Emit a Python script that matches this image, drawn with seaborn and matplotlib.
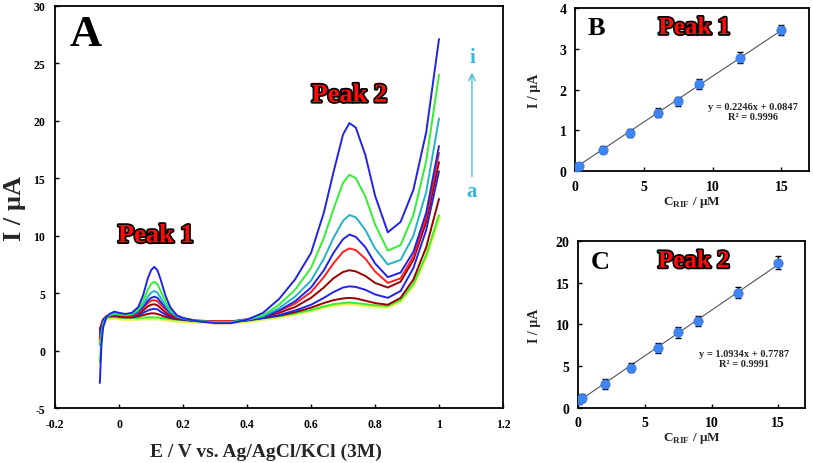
import numpy as np
import pandas as pd
import matplotlib
matplotlib.use("Agg")
import matplotlib.pyplot as plt
import matplotlib.patheffects as pe
from matplotlib.ticker import FuncFormatter
import seaborn as sns

# ---------------- data ----------------
potential = [-0.060, -0.055, -0.050, -0.040, -0.030, -0.015, 0.000, 0.020, 0.040, 0.060,
             0.075, 0.090, 0.100, 0.110, 0.120, 0.130, 0.145, 0.160, 0.180, 0.200,
             0.240, 0.300, 0.350, 0.400, 0.450, 0.500, 0.550, 0.600, 0.640, 0.670,
             0.700, 0.720, 0.740, 0.770, 0.800, 0.840, 0.880, 0.920, 0.960, 1.000]

curve_blank = [0.8, 1.8, 2.4, 2.75, 2.8, 2.85, 2.8, 2.75, 2.75, 2.75,
               2.8, 2.8, 2.8, 2.8, 2.8, 2.75, 2.7, 2.65, 2.6, 2.55,
               2.5, 2.45, 2.45, 2.55, 2.75, 2.95, 3.2, 3.5, 3.8, 3.95,
               4.05, 4.1, 4.05, 3.95, 3.85, 3.8, 4.3, 5.7, 8.2, 11.6]
curve_a = [1.0, 1.9, 2.5, 2.85, 2.9, 2.95, 2.9, 2.85, 2.85, 2.85,
           2.9, 2.9, 2.9, 2.9, 2.9, 2.85, 2.8, 2.75, 2.7, 2.65,
           2.55, 2.5, 2.5, 2.6, 2.8, 3.0, 3.25, 3.55, 3.85, 4.05,
           4.15, 4.2, 4.15, 4.05, 3.95, 3.9, 4.4, 5.8, 8.3, 11.8]
curve_b = [1.9, 2.3, 2.7, 2.95, 3.0, 3.0, 2.95, 2.9, 2.9, 3.0,
           3.1, 3.2, 3.25, 3.25, 3.2, 3.1, 2.95, 2.85, 2.75, 2.7,
           2.6, 2.55, 2.55, 2.65, 2.85, 3.05, 3.35, 3.75, 4.15, 4.4,
           4.55, 4.6, 4.55, 4.35, 4.15, 4.0, 4.6, 6.2, 9.0, 13.2]
curve_c = [1.2, 2.0, 2.6, 2.95, 3.05, 3.1, 3.0, 2.95, 2.95, 3.1,
           3.3, 3.5, 3.6, 3.65, 3.6, 3.4, 3.15, 2.95, 2.8, 2.7,
           2.6, 2.5, 2.5, 2.65, 2.85, 3.1, 3.5, 4.0, 4.6, 5.1,
           5.5, 5.6, 5.55, 5.3, 4.9, 4.6, 5.2, 7.2, 10.5, 15.6]
curve_d = [1.8, 2.2, 2.7, 3.0, 3.05, 3.1, 3.05, 3.0, 3.0, 3.2,
           3.5, 3.85, 4.0, 4.05, 3.95, 3.7, 3.35, 3.05, 2.85, 2.75,
           2.6, 2.55, 2.55, 2.7, 2.95, 3.3, 3.8, 4.6, 5.5, 6.3,
           6.85, 7.0, 6.9, 6.5, 5.9, 5.5, 6.0, 7.9, 11.2, 16.4]
curve_e = [1.0, 1.8, 2.5, 2.95, 3.1, 3.15, 3.1, 3.05, 3.05, 3.3,
           3.7, 4.15, 4.35, 4.4, 4.3, 4.0, 3.6, 3.2, 2.9, 2.8,
           2.65, 2.55, 2.55, 2.75, 3.0, 3.45, 4.1, 5.1, 6.4, 7.6,
           8.6, 8.9, 8.75, 8.0, 6.9, 5.9, 6.3, 8.2, 11.6, 17.2]
curve_f = [1.5, 2.0, 2.6, 3.0, 3.1, 3.2, 3.15, 3.1, 3.1, 3.4,
           3.8, 4.35, 4.6, 4.7, 4.6, 4.25, 3.75, 3.3, 2.95, 2.8,
           2.6, 2.5, 2.5, 2.7, 2.95, 3.5, 4.3, 5.5, 7.0, 8.5,
           9.7, 10.1, 9.9, 9.0, 7.6, 6.4, 6.8, 8.6, 12.0, 17.8]
curve_g = [0.5, 1.5, 2.4, 2.9, 3.1, 3.2, 3.15, 3.1, 3.15, 3.5,
           4.0, 4.7, 5.05, 5.2, 5.05, 4.6, 3.95, 3.4, 3.0, 2.8,
           2.6, 2.5, 2.5, 2.7, 3.0, 3.7, 4.7, 6.1, 8.0, 9.8,
           11.3, 11.8, 11.6, 10.5, 8.9, 7.5, 7.9, 10.0, 13.8, 20.2]
curve_h = [-1.0, 1.0, 2.2, 2.9, 3.1, 3.25, 3.2, 3.1, 3.2, 3.6,
           4.3, 5.3, 5.8, 6.0, 5.8, 5.2, 4.3, 3.6, 3.05, 2.85,
           2.6, 2.45, 2.45, 2.7, 3.1, 4.0, 5.3, 7.2, 9.8, 12.3,
           14.6, 15.3, 15.0, 13.4, 11.0, 8.7, 9.2, 11.8, 16.5, 24.0]
curve_i = [-2.8, 0.5, 2.0, 2.9, 3.2, 3.4, 3.3, 3.2, 3.3, 3.8,
           4.8, 6.3, 7.0, 7.3, 7.0, 6.2, 4.8, 3.8, 3.1, 2.85,
           2.6, 2.4, 2.4, 2.7, 3.3, 4.5, 6.2, 8.5, 12.0, 15.5,
           18.8, 19.8, 19.4, 17.0, 13.5, 10.3, 11.2, 14.0, 19.0, 27.1]

curve_names = ["blank", "a", "b", "c", "d", "e", "f", "g", "h", "i"]
curve_colors = ["#f2f060", "#33f033", "#9a0000", "#2323e6", "#9a0000",
                "#ff1f1f", "#2323e6", "#22b4c6", "#33f033", "#2323e6"]

conc = [0.1, 0.3, 2, 4, 6, 7.5, 9, 12, 15]
peak1_current = [0.10, 0.14, 0.53, 0.94, 1.43, 1.71, 2.14, 2.78, 3.46]
peak1_err = [0.06, 0.06, 0.09, 0.09, 0.11, 0.12, 0.13, 0.13, 0.13]
peak2_current = [1.0, 1.2, 2.87, 4.83, 7.19, 9.06, 10.46, 13.8, 17.4]
peak2_err = [0.5, 0.5, 0.6, 0.55, 0.6, 0.7, 0.6, 0.65, 0.8]
fit1_slope, fit1_intercept = 0.2246, 0.0847
fit2_slope, fit2_intercept = 1.0934, 0.7787
fit_range = [0.0, 15.0]

# ---------------- style ----------------
sns.set_theme(style="ticks")
plt.rcParams["font.family"] = ["Liberation Serif", "DejaVu Serif"]
plt.rcParams["font.weight"] = "bold"
plt.rcParams["axes.unicode_minus"] = False
plt.rcParams["mathtext.fontset"] = "custom"
plt.rcParams["mathtext.rm"] = "Liberation Serif"
plt.rcParams["mathtext.bf"] = "Liberation Serif:bold"

fig = plt.figure(figsize=(8.13, 4.64), dpi=100)
axA = fig.add_axes([0.0677, 0.1179, 0.551, 0.8677])
axB = fig.add_axes([0.7073, 0.6287, 0.2878, 0.3519])
axC = fig.add_axes([0.7110, 0.1185, 0.2792, 0.3600])

# ---------------- panel A ----------------
curves = [curve_blank, curve_a, curve_b, curve_c, curve_d, curve_e,
          curve_f, curve_g, curve_h, curve_i]
rows = []
for name, vals in zip(curve_names, curves):
    for e, v in zip(potential, vals):
        rows.append((name, e, v))
dfA = pd.DataFrame(rows, columns=["curve", "E", "I"])
for name, col in zip(curve_names, curve_colors):
    sub = dfA[dfA["curve"] == name]
    sns.lineplot(data=sub, x="E", y="I", color=col, sort=False, estimator=None,
                 lw=2.6 if name == "blank" else 1.4, ax=axA)

axA.set_xlim(-0.2, 1.2)
axA.set_ylim(-5, 30)
axA.set_xticks(np.arange(-0.2, 1.21, 0.2))
axA.set_yticks(np.arange(-5, 31, 5))
axA.xaxis.set_major_formatter(FuncFormatter(lambda v, p: f"{v:.1f}".rstrip("0").rstrip(".") if abs(v) > 1e-9 else "0"))
axA.tick_params(direction="in", length=3, labelsize=8.5, width=1, colors="black", pad=7)
axA.set_xlabel("E / V vs. Ag/AgCl/KCl (3M)", fontsize=14, fontweight="bold")
axA.xaxis.set_label_coords(0.47, -0.085)
axA.set_ylabel("I / µA", fontsize=19, fontweight="bold")
axA.yaxis.set_label_coords(-0.064, 0.5)
for lab in axA.get_xticklabels() + axA.get_yticklabels():
    lab.set_fontweight("bold")

axA.text(0.033, 0.93, "A", transform=axA.transAxes, fontsize=32, fontweight="bold",
         ha="left", va="center", color="black")
stroke = [pe.withStroke(linewidth=2.5, foreground="black")]
axA.text(0.115, 10.0, "Peak 1", fontsize=19, fontweight="bold", color="#ff0a0a",
         ha="center", va="center", path_effects=stroke)
axA.text(0.72, 22.2, "Peak 2", fontsize=19, fontweight="bold", color="#ff0a0a",
         ha="center", va="center", path_effects=stroke)
axA.annotate("", xy=(1.103, 24.4), xytext=(1.103, 14.9),
             arrowprops=dict(arrowstyle="->", color="#35b7dc", lw=0.9))
axA.text(1.103, 25.5, "i", fontsize=15, fontweight="bold", color="#35b7dc",
         ha="center", va="center")
axA.text(1.103, 13.9, "a", fontsize=15, fontweight="bold", color="#35b7dc",
         ha="center", va="center")

# ---------------- panels B and C ----------------
def calib(ax, y, yerr, slope, intercept, ymax, ystep, letter, peak, eq, r2, eqpos,
          ylab_x, xlab_y):
    dfc = pd.DataFrame({"C": conc, "I": y})
    xs = np.array(fit_range)
    ax.plot(xs, slope * xs + intercept, color="#555555", lw=0.8, zorder=1)
    ax.errorbar(conc, y, yerr=yerr, fmt="none", ecolor="black", elinewidth=1,
                capsize=2.5, capthick=1, zorder=2)
    sns.scatterplot(data=dfc, x="C", y="I", color="#3f86f2", s=45,
                    edgecolor="#3070e0", linewidth=0.5, zorder=3, ax=ax)
    ax.set_xlim(0, 17)
    ax.set_ylim(0, ymax)
    ax.set_xticks([0, 5, 10, 15])
    ax.set_yticks(np.arange(0, ymax + 0.01, ystep))
    ax.tick_params(direction="in", length=3, labelsize=10, width=1, colors="black", pad=6)
    for lab in ax.get_xticklabels() + ax.get_yticklabels():
        lab.set_fontweight("bold")
    ax.set_xlabel(r"C$_{\mathbf{RIF}}$ / µM", fontsize=9.5, fontweight="bold")
    ax.set_ylabel("I / µA", fontsize=10, fontweight="bold")
    ax.yaxis.set_label_coords(ylab_x, 0.5)
    ax.xaxis.set_label_coords(0.5, xlab_y)
    ax.text(0.055, 0.88, letter, transform=ax.transAxes, fontsize=19,
            fontweight="bold", ha="left", va="center", color="black")
    ax.text(0.51, 0.88, peak, transform=ax.transAxes, fontsize=18, fontweight="bold",
            color="#ff0a0a", ha="center", va="center", path_effects=stroke)
    ax.text(eqpos[0], eqpos[1], eq + "\n" + r2, fontsize=7.5, fontweight="bold",
            ha="center", va="center", linespacing=1.1)

calib(axB, peak1_current, peak1_err, fit1_slope, fit1_intercept, 4, 1,
      "B", "Peak 1", "y = 0.2246x + 0.0847", "R² = 0.9996", (12.9, 1.46),
      -0.145, -0.14)
calib(axC, peak2_current, peak2_err, fit2_slope, fit2_intercept, 20, 5,
      "C", "Peak 2", "y = 1.0934x + 0.7787", "R² = 0.9991", (12.4, 5.9),
      -0.163, -0.13)

for ax in (axA, axB, axC):
    for sp in ax.spines.values():
        sp.set_visible(True)
        sp.set_color("black")
        sp.set_linewidth(1.3)

fig.savefig("out.png", dpi=100)
